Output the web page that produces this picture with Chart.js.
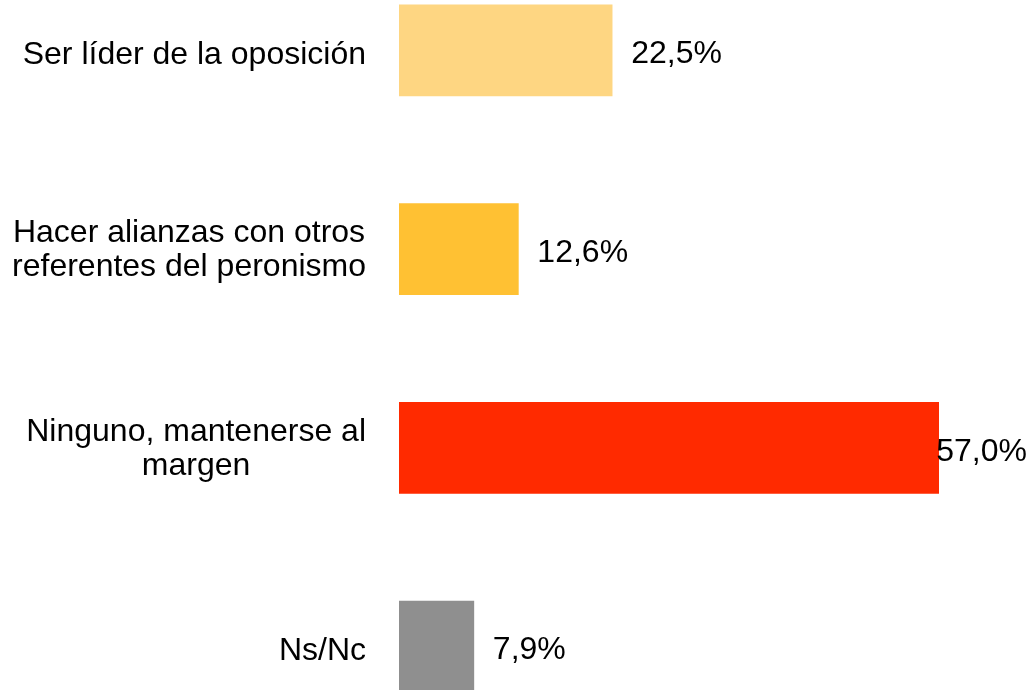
<!DOCTYPE html>
<html>
<head>
<meta charset="utf-8">
<script src="https://cdn.jsdelivr.net/npm/chart.js@4"></script>
<style>
    html, body { margin: 0; padding: 0; background: #fff; overflow: hidden; }
    body { width: 1029px; height: 690px; position: relative; }
    #wrap { position: absolute; left: 0; top: -49px; width: 1029px; height: 795px; }
</style>
</head>
<body>
<div id="wrap"><canvas id="chart"></canvas></div>
<script>
    'use strict';

    const CATEGORIES = [
        ['Ser líder de la oposición'],
        ['Hacer alianzas con otros', 'referentes del peronismo'],
        ['Ninguno, mantenerse al', 'margen'],
        ['Ns/Nc']
    ];
    const VALUES = [22.5, 12.6, 57.0, 7.9];
    const BAR_COLORS = ['#FED682', '#FFC133', '#FF2A00', '#8F8F8F'];

    const FONT = '32px "Liberation Sans", Arial, sans-serif';
    const LINE_H = 34;

    function fmtPct(v) {
        return v.toFixed(1).replace('.', ',') + '%';
    }

    const labelsPlugin = {
        id: 'sideLabels',
        afterDatasetsDraw(chart) {
            const ctx = chart.ctx;
            const meta = chart.getDatasetMeta(0);
            const area = chart.chartArea;
            ctx.save();
            ctx.font = FONT;
            ctx.fillStyle = '#000';
            ctx.textBaseline = 'middle';
            meta.data.forEach((bar, i) => {
                // category label, block right-aligned, lines centred in block
                const lines = CATEGORIES[i];
                const blockW = Math.max(...lines.map(l => ctx.measureText(l).width));
                const right = area.left - 33;
                const cx = right - blockW / 2;
                const nudge = lines.length === 1 ? 5 : 1;
                const top = bar.y - (lines.length - 1) * LINE_H / 2 + nudge;
                ctx.textAlign = 'center';
                lines.forEach((l, j) => ctx.fillText(l, cx, top + j * LINE_H));

                // value label, pushed back inside the canvas when it would overflow
                const txt = fmtPct(VALUES[i]);
                const w = ctx.measureText(txt).width;
                let x = bar.x + 19;
                if (x + w > chart.width - 2) x = chart.width - 2 - w;
                ctx.textAlign = 'left';
                ctx.fillText(txt, x, bar.y + 4);
            });
            ctx.restore();
        }
    };

    new Chart(document.getElementById('chart'), {
        type: 'bar',
        data: {
            labels: CATEGORIES,
            datasets: [{
                data: VALUES,
                backgroundColor: BAR_COLORS,
                borderWidth: 0,
                barThickness: 91
            }]
        },
        options: {
            indexAxis: 'y',
            responsive: true,
            maintainAspectRatio: false,
            animation: false,
            layout: { padding: { left: 399, right: 90, top: 0, bottom: 0 } },
            plugins: {
                legend: { display: false },
                tooltip: { enabled: false }
            },
            scales: {
                x: { display: false, min: 0, max: 57 },
                y: { display: false }
            }
        },
        plugins: [labelsPlugin]
    });
</script>
</body>
</html>
